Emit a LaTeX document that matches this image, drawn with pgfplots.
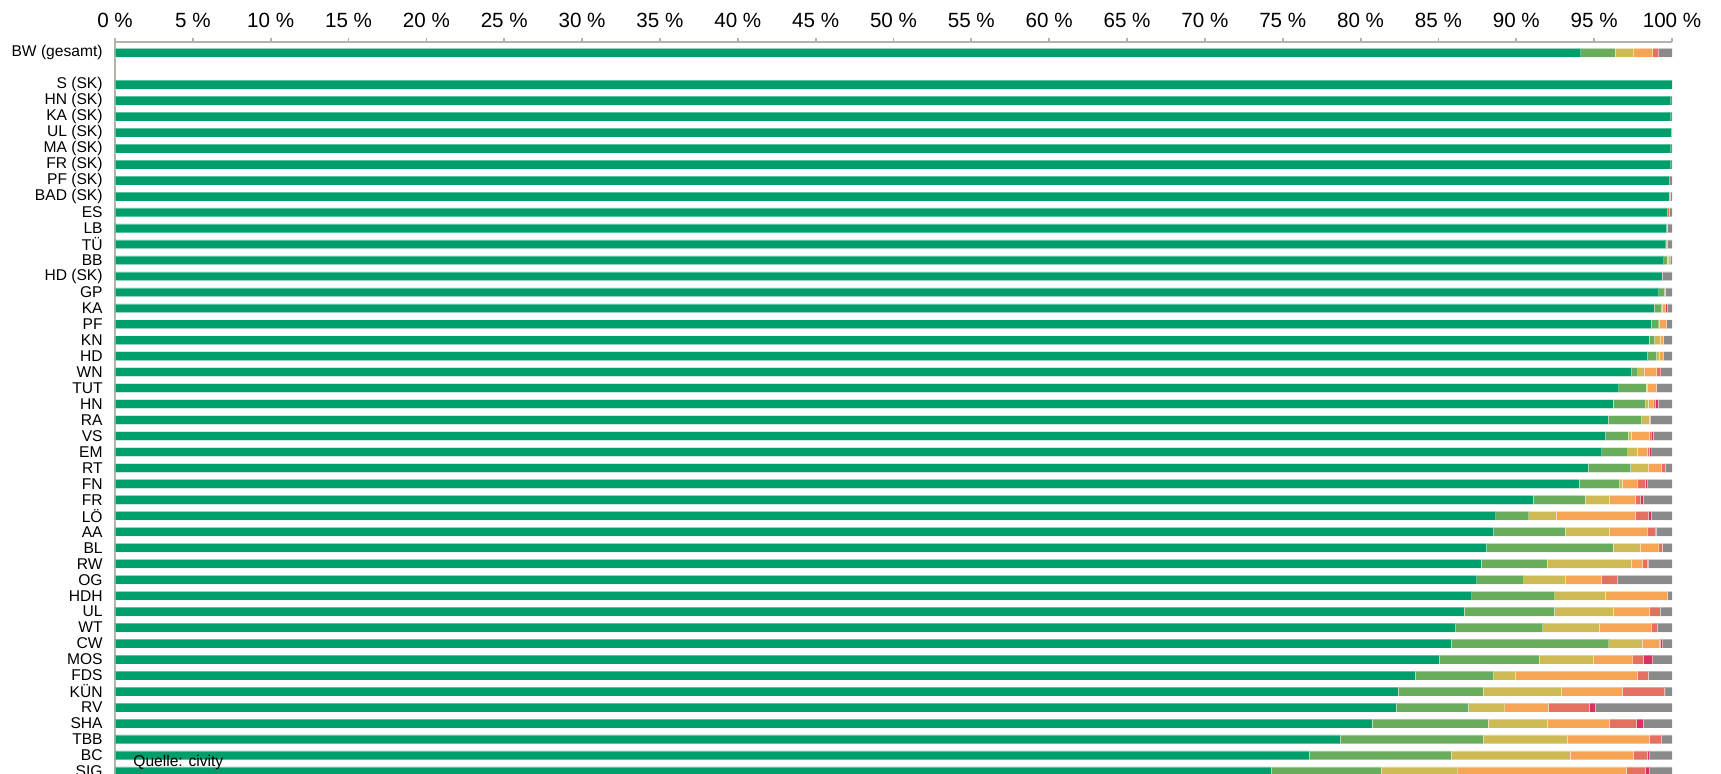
\documentclass[border=0pt]{standalone}
\usepackage{pgfplots}
\pgfplotsset{compat=1.18}
\usepackage{pgfplotstable}
\usepackage{fontspec}
\setmainfont{Liberation Sans}
\definecolor{cG}{HTML}{009E6A}
\definecolor{cLG}{HTML}{68AD5C}
\definecolor{cY}{HTML}{CEBA55}
\definecolor{cO}{HTML}{F5A555}
\definecolor{cR}{HTML}{E4705F}
\definecolor{cC}{HTML}{D43461}
\definecolor{cGy}{HTML}{8A8A8A}
\definecolor{axc}{HTML}{B5B3A6}
\pgfplotstableread{
y g lg ye or re cr gy
0 94.14 2.20 1.16 1.26 0.34 0.05 0.85
2 100.00 0 0 0 0 0 0
3 99.92 0 0 0 0 0 0.08
4 99.92 0 0 0 0 0 0.08
5 99.94 0 0 0 0 0 0.06
6 99.92 0 0 0 0 0 0.08
7 99.92 0 0 0 0 0 0.08
8 99.85 0 0 0 0 0 0.15
9 99.83 0 0 0.07 0 0 0.10
10 99.72 0 0 0 0.08 0 0.20
11 99.66 0 0.04 0 0 0 0.30
12 99.60 0.06 0 0.06 0 0 0.28
13 99.47 0.23 0.05 0.12 0 0 0.13
14 99.36 0 0 0 0 0 0.64
15 99.15 0.38 0.05 0 0 0 0.42
16 98.85 0.49 0.06 0.20 0 0.08 0.32
17 98.67 0.48 0.06 0.43 0 0 0.36
18 98.52 0.37 0.38 0.17 0 0 0.56
19 98.44 0.58 0.19 0.26 0 0 0.53
20 97.41 0.39 0.40 0.80 0.28 0 0.72
21 96.58 1.75 0.07 0.62 0 0 0.98
22 96.21 2.10 0.17 0.35 0.12 0.18 0.87
23 95.89 2.16 0.47 0.07 0 0 1.41
24 95.74 1.46 0.19 1.18 0.13 0.08 1.22
25 95.49 1.67 0.59 0.69 0.13 0.13 1.30
26 94.63 2.72 1.11 0.88 0.21 0 0.45
27 94.03 2.61 0.15 0.96 0.54 0.15 1.56
28 91.08 3.34 1.56 1.67 0.34 0.15 1.86
29 88.68 2.12 1.77 5.08 0.85 0.17 1.33
30 88.55 4.60 2.81 2.44 0.51 0.05 1.04
31 88.10 8.11 1.74 1.20 0.23 0 0.62
32 87.72 4.28 5.37 0.75 0.32 0.05 1.51
33 87.46 3.02 2.69 2.30 1.00 0 3.53
34 87.14 5.33 3.23 4.02 0 0 0.28
35 86.63 5.82 3.76 2.34 0.68 0 0.77
36 86.11 5.59 3.60 3.40 0.34 0 0.96
37 85.81 10.13 2.13 1.10 0.08 0.15 0.60
38 85.04 6.44 3.47 2.53 0.68 0.60 1.24
39 83.50 5.05 1.37 7.86 0.70 0 1.52
40 82.39 5.48 5.03 3.91 2.72 0.07 0.40
41 82.30 4.62 2.34 2.80 2.64 0.36 4.94
42 80.72 7.45 3.81 4.02 1.71 0.43 1.86
43 78.70 9.17 5.43 5.27 0.73 0 0.70
44 76.69 9.12 7.66 4.07 0.88 0.15 1.43
45 74.25 7.07 4.92 10.83 1.22 0.28 1.43
}\datatable
\begin{document}
\begin{tikzpicture}
\begin{axis}[
  at={(0pt,0pt)}, anchor=north west,
  scale only axis, width=778.5pt, height=372.65pt,
  xmin=0, xmax=100, ymin=-0.67, ymax=46,
  enlargelimits=false,
  y dir=reverse,
  xbar stacked, bar width=4.4pt,
  axis x line=top, axis y line=left,
  axis line style={-, color=axc, line width=0.9pt},
  tick align=outside,
  major tick length=2pt,
  xtick style={color=axc, line width=0.9pt},
  ytick style={draw=none},
  xtick={0,5,...,100},
  xticklabels={0 \%,5 \%,10 \%,15 \%,20 \%,25 \%,30 \%,35 \%,40 \%,45 \%,50 \%,55 \%,60 \%,65 \%,70 \%,75 \%,80 \%,85 \%,90 \%,95 \%,100 \%},
  xticklabel style={font=\fontsize{10.3}{12}\selectfont, inner sep=0pt, yshift=5pt},
  ytick={0,2,3,4,5,6,7,8,9,10,11,12,13,14,15,16,17,18,19,20,21,22,23,24,25,26,27,28,29,30,31,32,33,34,35,36,37,38,39,40,41,42,43,44,45},
  yticklabels={{BW (gesamt)},{S (SK)},{HN (SK)},{KA (SK)},{UL (SK)},{MA (SK)},{FR (SK)},{PF (SK)},{BAD (SK)},ES,LB,TÜ,BB,{HD (SK)},GP,KA,PF,KN,HD,WN,TUT,HN,RA,VS,EM,RT,FN,FR,LÖ,AA,BL,RW,OG,HDH,UL,WT,CW,MOS,FDS,KÜN,RV,SHA,TBB,BC,SIG},
  yticklabel style={font=\fontsize{7.8}{9}\selectfont, inner sep=0pt, xshift=-4pt},
  every axis plot/.append style={draw=white, draw opacity=0.35, line width=0.3pt},
]
\addplot[fill=cG] table[x=g, y=y] {\datatable};
\addplot[fill=cLG] table[x=lg, y=y] {\datatable};
\addplot[fill=cY] table[x=ye, y=y] {\datatable};
\addplot[fill=cO] table[x=or, y=y] {\datatable};
\addplot[fill=cR] table[x=re, y=y] {\datatable};
\addplot[fill=cC] table[x=cr, y=y] {\datatable};
\addplot[fill=cGy] table[x=gy, y=y] {\datatable};
\end{axis}
\node[anchor=base west, inner sep=0pt, font=\fontsize{7.8}{9}\selectfont] at (9pt,-362.5pt) {Quelle: civity};
\pgfresetboundingbox
\path[use as bounding box] (-57.5pt,21pt) rectangle (803pt,-366pt);
\end{tikzpicture}
\end{document}
